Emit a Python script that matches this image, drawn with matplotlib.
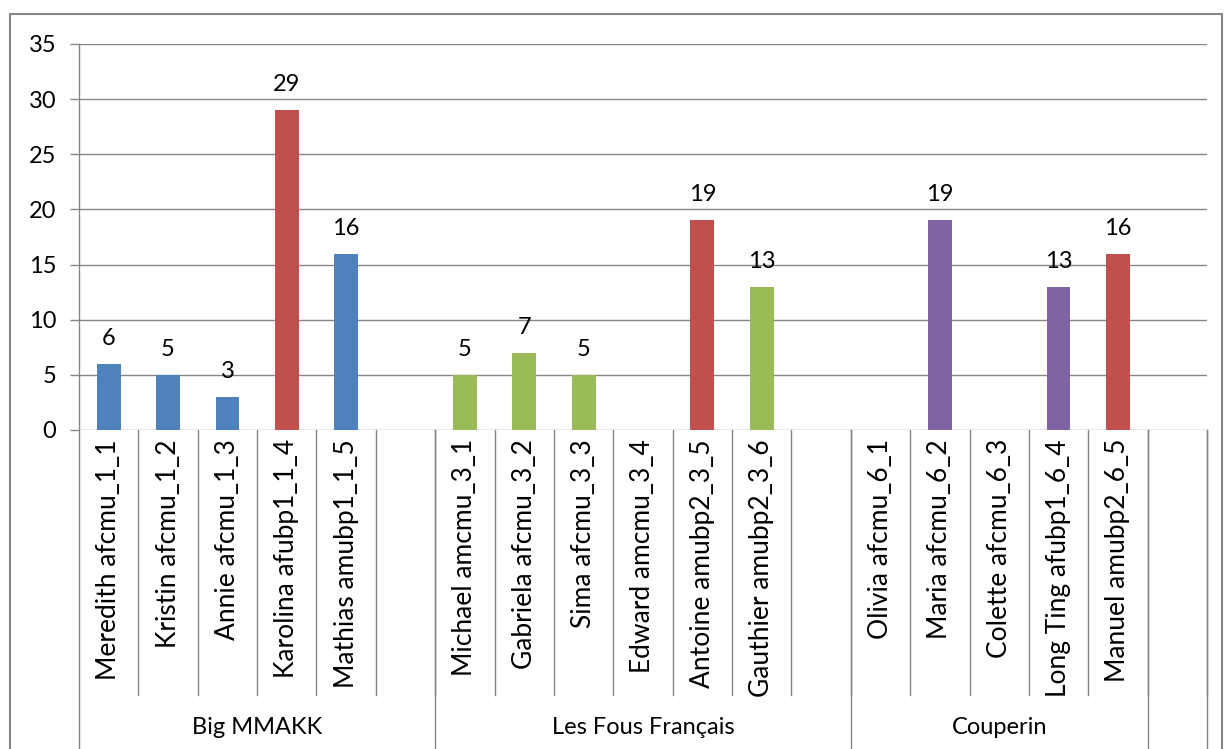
import matplotlib.pyplot as plt
from matplotlib.patches import Rectangle

# one entry per category slot (blank slots are spacers, as in the source chart)
names = ['Meredith afcmu_1_1', 'Kristin afcmu_1_2', 'Annie afcmu_1_3',
         'Karolina afubp1_1_4', 'Mathias amubp1_1_5', '',
         'Michael amcmu_3_1', 'Gabriela afcmu_3_2', 'Sima afcmu_3_3',
         'Edward amcmu_3_4', 'Antoine amubp2_3_5', 'Gauthier amubp2_3_6', '',
         'Olivia afcmu_6_1', 'Maria afcmu_6_2', 'Colette afcmu_6_3',
         'Long Ting afubp1_6_4', 'Manuel amubp2_6_5', '']
values = [6, 5, 3, 29, 16, None,
          5, 7, 5, None, 19, 13, None,
          None, 19, None, 13, 16, None]
colors = ['#4F81BD', '#4F81BD', '#4F81BD', '#C0504D', '#4F81BD', None,
          '#9BBB59', '#9BBB59', '#9BBB59', None, '#C0504D', '#9BBB59', None,
          None, '#8064A2', None, '#8064A2', '#C0504D', None]
groups = ['Big MMAKK', 'Les Fous Français', 'Couperin', '']
group_sizes = [6, 7, 5, 1]

GRAY = '#868686'
plt.rcParams['font.family'] = ['Lato', 'DejaVu Sans']

fig = plt.figure(figsize=(12.25, 7.49), dpi=100)
ax = fig.add_axes([79 / 1225, (749 - 430) / 749, (1207 - 79) / 1225, 386 / 749])

for i, (v, c) in enumerate(zip(values, colors)):
    if v is None:
        continue
    ax.bar(i, v, width=0.4, color=c, zorder=3)
    ax.annotate(str(v), (i, v), xytext=(0, 15), textcoords='offset pixels',
                ha='center', va='bottom', fontsize=17)

ax.set_xlim(-0.5, len(names) - 0.5)
ax.set_ylim(0, 35)
ax.set_yticks(range(0, 36, 5))
ax.set_xticks([])
ax.tick_params(axis='y', length=6.5, color=GRAY, width=1, pad=10, labelsize=17)
ax.yaxis.grid(True, color=GRAY, lw=1)
ax.set_axisbelow(True)
for s in ax.spines.values():
    s.set_visible(False)

tr = ax.get_xaxis_transform()
inner_bottom = -(695 - 430) / 386
outer_bottom = -(750 - 430) / 386

# left axis line, running down through the category area
ax.plot([-0.5, -0.5], [1, outer_bottom], color=GRAY, lw=1, transform=tr, clip_on=False)

# category labels and separators
for i, name in enumerate(names):
    if name:
        ax.text(i, -9 / 386, name, rotation=90, ha='center', va='top',
                fontsize=19, transform=tr)
    ax.plot([i + 0.5, i + 0.5], [0, inner_bottom], color=GRAY, lw=1,
            transform=tr, clip_on=False)

# group labels and group separators
start = -0.5
for g, n in zip(groups, group_sizes):
    end = start + n
    ax.plot([end, end], [0, outer_bottom], color=GRAY, lw=1, transform=tr, clip_on=False)
    if g:
        ax.text((start + end) / 2, -(728 - 430) / 386, g, ha='center', va='center',
                fontsize=17, transform=tr)
    start = end

# chart area border
fig.patches.append(Rectangle((10 / 1225, -0.1), 1212 / 1225, 0.1 + 735 / 749,
                             transform=fig.transFigure, fill=False,
                             edgecolor=GRAY, lw=1.5))

fig.savefig('out.png', dpi=100)
